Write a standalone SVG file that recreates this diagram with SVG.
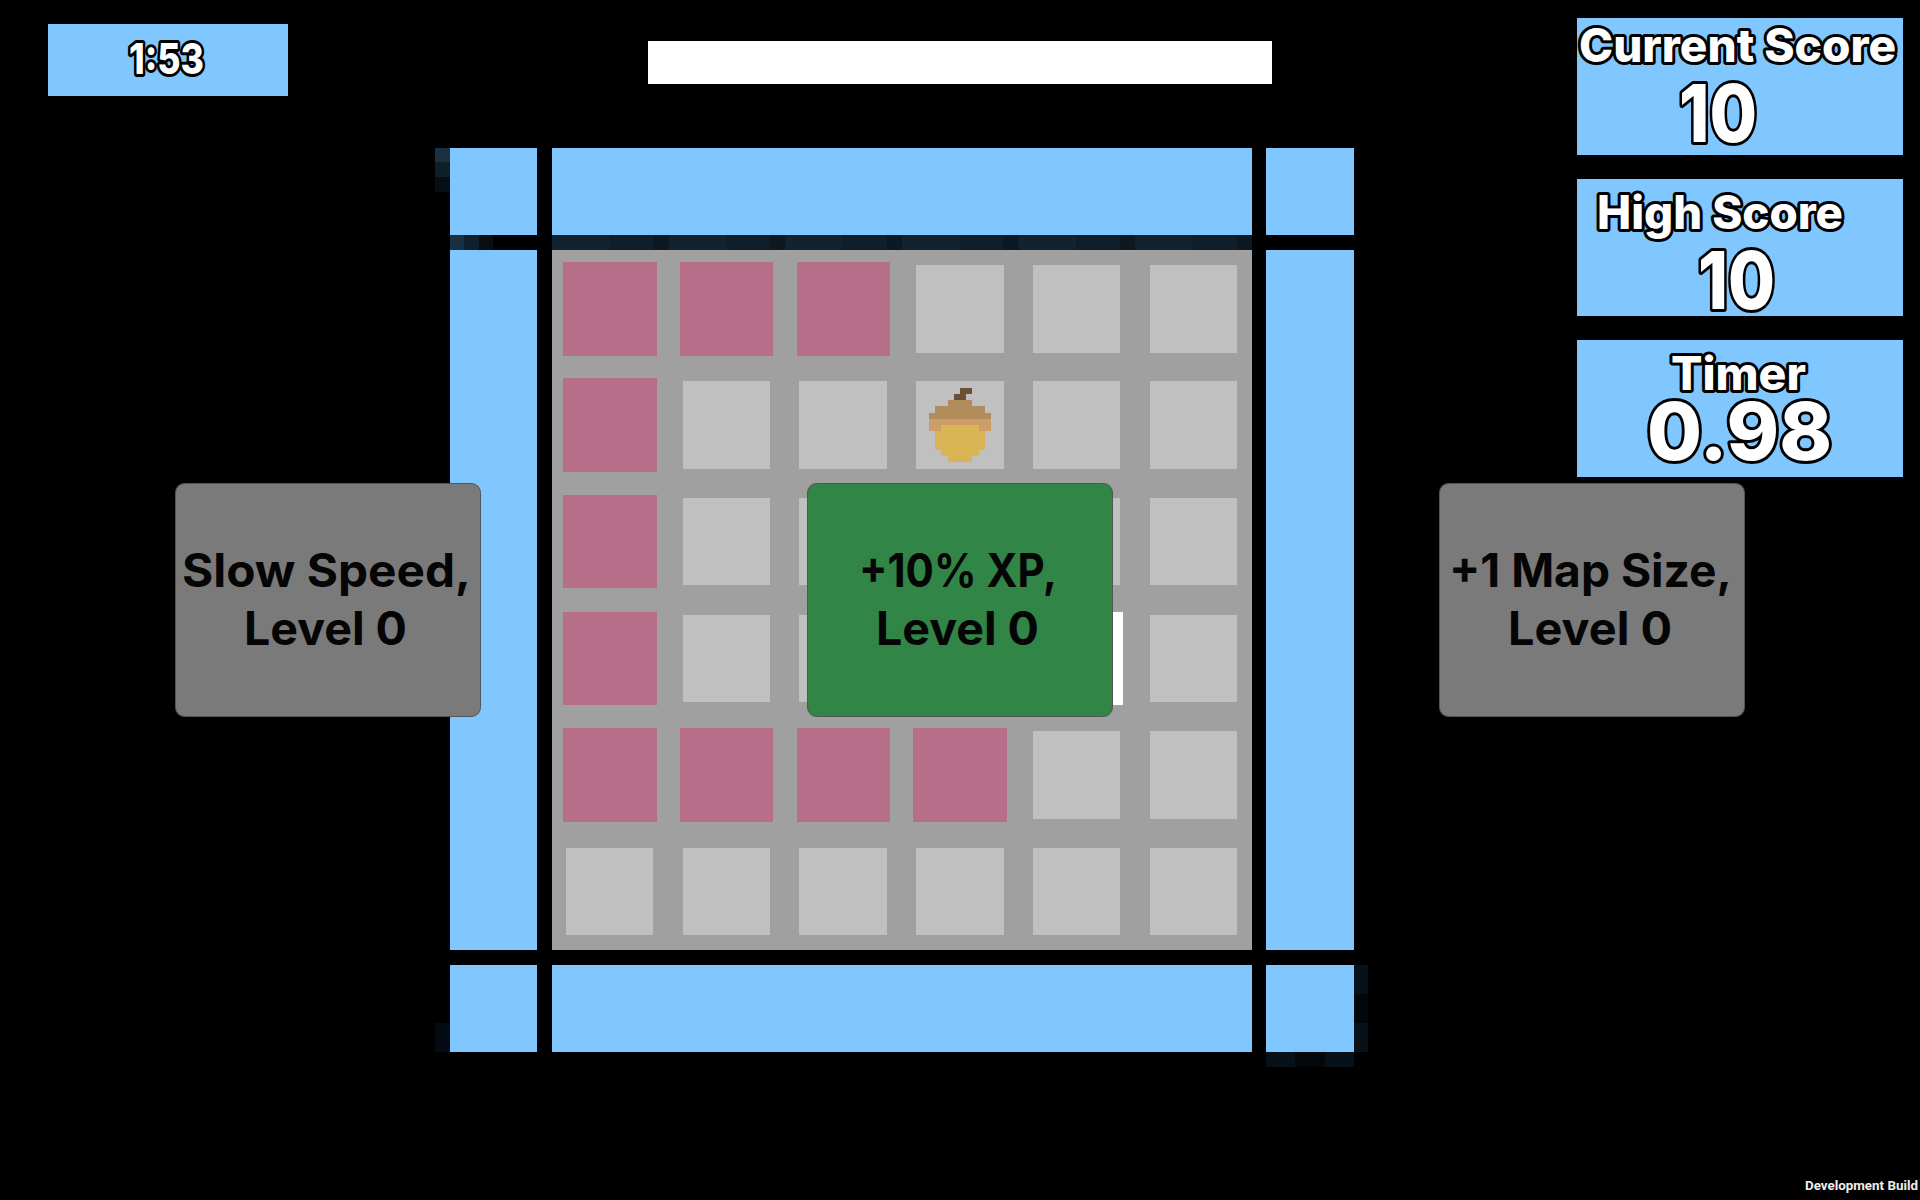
<svg xmlns="http://www.w3.org/2000/svg" width="1920" height="1200" viewBox="0 0 1920 1200">
<style>
.b{fill:#80c6ff}
.c{fill:#c0c0c0}
.p{fill:#b76e89}
.hud{font-family:"Inter","DejaVu Sans",sans-serif;font-weight:800;fill:#fff;stroke:#000;stroke-width:6;paint-order:stroke;stroke-linejoin:round}
.lab{font-family:"Inter","DejaVu Sans",sans-serif;font-weight:700;font-size:46px;fill:#050505}
.card{stroke:#555;stroke-width:1}
</style>
<defs>
<pattern id="strip" patternUnits="userSpaceOnUse" x="552" y="235" width="116.667" height="15">
<rect width="58" height="15" fill="#12232f"/>
<rect x="58" width="44" height="15" fill="#0f1e28"/>
<rect x="102" width="15" height="15" fill="#0c1922"/>
</pattern>
</defs>
<rect width="1920" height="1200" fill="#000"/>
<g id="frame">
<rect class="b" x="450" y="148" width="87" height="87"/>
<rect class="b" x="552" y="148" width="700" height="87"/>
<rect class="b" x="1266" y="148" width="88" height="87"/>
<rect class="b" x="450" y="250" width="87" height="700"/>
<rect class="b" x="1266" y="250" width="88" height="700"/>
<rect class="b" x="450" y="965" width="87" height="87"/>
<rect class="b" x="552" y="965" width="700" height="87"/>
<rect class="b" x="1266" y="965" width="88" height="87"/>
</g>
<g id="shadows">
<rect x="435" y="148" width="15" height="14" fill="#1b3142"/>
<rect x="435" y="162" width="15" height="15" fill="#0f1f2a"/>
<rect x="435" y="177" width="15" height="15" fill="#060e14"/>
<rect x="450" y="235" width="14" height="15" fill="#1a2f3f"/>
<rect x="464" y="235" width="15" height="15" fill="#0f1f2b"/>
<rect x="479" y="235" width="14" height="15" fill="#060e14"/>
<rect x="552" y="235" width="700" height="15" fill="url(#strip)"/>
<rect x="1354" y="965" width="14" height="29" fill="#06111a"/>
<rect x="1354" y="994" width="14" height="29" fill="#02070c"/>
<rect x="1354" y="1023" width="14" height="29" fill="#06111a"/>
<rect x="1266" y="1052" width="29" height="15" fill="#06111a"/>
<rect x="1295" y="1052" width="30" height="15" fill="#03080d"/>
<rect x="1325" y="1052" width="29" height="15" fill="#06111a"/>
<rect x="435" y="1023" width="15" height="29" fill="#050b12"/>
</g>
<g id="board">
<rect x="552" y="250" width="700" height="700" fill="#a0a0a0"/>
<rect class="p" x="563" y="262" width="94" height="94"/><rect class="p" x="680" y="262" width="93" height="94"/><rect class="p" x="797" y="262" width="93" height="94"/>
<rect class="c" x="916" y="265" width="88" height="88"/><rect class="c" x="1033" y="265" width="87" height="88"/><rect class="c" x="1150" y="265" width="87" height="88"/>
<rect class="p" x="563" y="378" width="94" height="94"/>
<rect class="c" x="683" y="381" width="87" height="88"/><rect class="c" x="799" y="381" width="88" height="88"/><rect class="c" x="916" y="381" width="88" height="88"/><rect class="c" x="1033" y="381" width="87" height="88"/><rect class="c" x="1150" y="381" width="87" height="88"/>
<rect class="p" x="563" y="495" width="94" height="93"/>
<rect class="c" x="683" y="498" width="87" height="87"/><rect class="c" x="799" y="498" width="88" height="87"/><rect class="c" x="916" y="498" width="88" height="87"/><rect class="c" x="1033" y="498" width="87" height="87"/><rect class="c" x="1150" y="498" width="87" height="87"/>
<rect class="p" x="563" y="612" width="94" height="93"/>
<rect class="c" x="683" y="615" width="87" height="87"/><rect class="c" x="799" y="615" width="88" height="87"/><rect class="c" x="916" y="615" width="88" height="87"/>
<rect x="1030" y="612" width="93" height="93" fill="#fff"/>
<rect class="c" x="1150" y="615" width="87" height="87"/>
<rect class="p" x="563" y="728" width="94" height="94"/><rect class="p" x="680" y="728" width="93" height="94"/><rect class="p" x="797" y="728" width="93" height="94"/><rect class="p" x="913" y="728" width="94" height="94"/>
<rect class="c" x="1033" y="731" width="87" height="88"/><rect class="c" x="1150" y="731" width="87" height="88"/>
<rect class="c" x="566" y="848" width="87" height="87"/><rect class="c" x="683" y="848" width="87" height="87"/><rect class="c" x="799" y="848" width="88" height="87"/><rect class="c" x="916" y="848" width="88" height="87"/><rect class="c" x="1033" y="848" width="87" height="87"/><rect class="c" x="1150" y="848" width="87" height="87"/>
</g>
<g id="acorn">
<path fill="#6b5033" d="M960 388h12v6h-6v6h-12v-6h6z"/>
<path fill="#b28c5a" d="M948 400h24v6h13v7h6v6h-62v-6h6v-7h13z"/>
<path fill="#cc9d66" d="M929 419h62v12h-62z"/>
<path fill="#d9b455" d="M941 425h38v6h6v19h-6v6h-7v6h-24v-6h-7v-6h-6v-19h6z"/>
</g>
<g id="timer-top"><rect class="b" x="48" y="24" width="240" height="72"/><text class="hud" x="129" y="74" font-size="42" textLength="75" lengthAdjust="spacingAndGlyphs">1:53</text></g>
<g id="bar"><rect x="648" y="41" width="624" height="43" fill="#fff"/></g>
<g id="current-score"><rect class="b" x="1577" y="18" width="326" height="137"/>
<text class="hud" x="1579" y="62" font-size="46" textLength="317" lengthAdjust="spacingAndGlyphs">Current Score</text>
<text class="hud" x="1679" y="142" font-size="80" textLength="78" lengthAdjust="spacingAndGlyphs">10</text></g>
<g id="high-score"><rect class="b" x="1577" y="179" width="326" height="137"/>
<text class="hud" x="1597" y="229" font-size="46" textLength="246" lengthAdjust="spacingAndGlyphs">High Score</text>
<text class="hud" x="1698" y="309" font-size="80" textLength="77" lengthAdjust="spacingAndGlyphs">10</text></g>
<g id="timer"><rect class="b" x="1577" y="340" width="326" height="137"/>
<text class="hud" x="1671" y="390" font-size="46" textLength="135" lengthAdjust="spacingAndGlyphs">Timer</text>
<text class="hud" x="1647" y="460" font-size="80" textLength="185" lengthAdjust="spacingAndGlyphs">0.98</text></g>
<g id="card-slow"><rect class="card" x="175.5" y="483.5" width="305" height="233" rx="9" fill="#7a7a7a"/>
<text class="lab" x="182" y="587" textLength="289" lengthAdjust="spacingAndGlyphs">Slow Speed,</text>
<text class="lab" x="244" y="645" textLength="163" lengthAdjust="spacingAndGlyphs">Level 0</text></g>
<g id="card-xp"><rect class="card" x="807.5" y="483.5" width="305" height="233" rx="9" fill="#318547"/>
<text class="lab" x="859" y="587" textLength="198" lengthAdjust="spacingAndGlyphs">+10% XP,</text>
<text class="lab" x="876" y="645" textLength="163" lengthAdjust="spacingAndGlyphs">Level 0</text></g>
<g id="card-map"><rect class="card" x="1439.5" y="483.5" width="305" height="233" rx="9" fill="#7a7a7a"/>
<text class="lab" x="1449" y="587" textLength="283" lengthAdjust="spacingAndGlyphs">+1 Map Size,</text>
<text class="lab" x="1508" y="645" textLength="164" lengthAdjust="spacingAndGlyphs">Level 0</text></g>
<text id="dev" x="1805" y="1190" font-family="Roboto,sans-serif" font-weight="700" font-size="13.5" fill="#eee" textLength="113" lengthAdjust="spacingAndGlyphs">Development Build</text>
</svg>
